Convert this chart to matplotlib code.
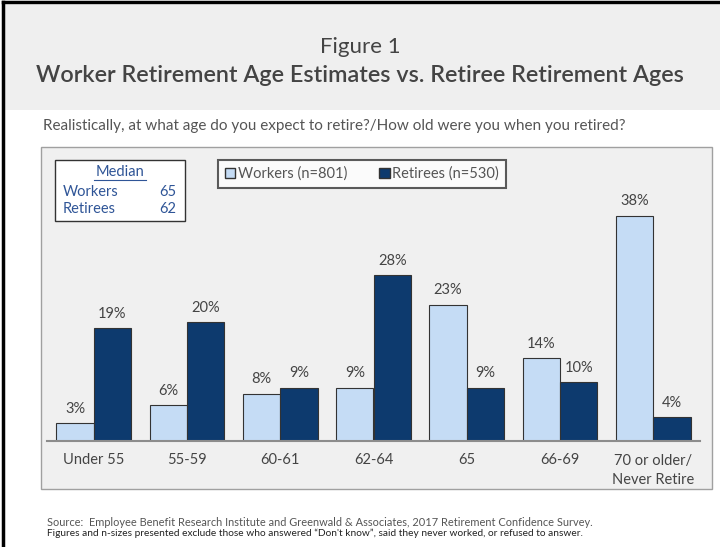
import numpy as np
import matplotlib.pyplot as plt
from matplotlib.patches import Rectangle, Patch
from matplotlib.lines import Line2D

# datos
categorias = ["Under 55", "55-59", "60-61", "62-64", "65", "66-69", "70 or older/\nNever Retire"]
workers = [3, 6, 8, 9, 23, 14, 38]
retirees = [19, 20, 9, 28, 9, 10, 4]
mediana_workers = 65
mediana_retirees = 62

plt.rcParams['font.family'] = ['Lato', 'DejaVu Sans']

W, H = 720, 547
def fx(px): return px / W
def fy(py): return 1 - py / H

fig = plt.figure(figsize=(7.2, 5.47), dpi=100)
fig.patch.set_facecolor("white")

# banda gris del encabezado
fig.add_artist(Rectangle((fx(5), fy(110)), fx(715), 105 / H, transform=fig.transFigure,
                         facecolor="#efefef", edgecolor="none", zorder=0))
# bordes negros
fig.add_artist(Line2D([fx(3), fx(3)], [0, fy(2)], transform=fig.transFigure, color="black", lw=2.5))
fig.add_artist(Line2D([fx(3), 1], [fy(2), fy(2)], transform=fig.transFigure, color="black", lw=2.5))

fig.text(0.5, fy(47), "Figure 1", ha="center", va="center", fontsize=16, color="#444444", fontweight="normal")
fig.text(0.5, fy(75), "Worker Retirement Age Estimates vs. Retiree Retirement Ages", ha="center", va="center",
         fontsize=16.8, color="#444444", fontweight="semibold")
fig.text(fx(43), fy(126), "Realistically, at what age do you expect to retire?/How old were you when you retired?",
         ha="left", va="center", fontsize=11, color="#555555")

# panel gris del grafico
fig.add_artist(Rectangle((fx(41), fy(489)), (712 - 41) / W, (489 - 147) / H, transform=fig.transFigure,
                         facecolor="#f0f0f0", edgecolor="#a0a0a0", lw=1, zorder=0))

ax = fig.add_axes([fx(47), fy(441), (700 - 47) / W, (441 - 174) / H])
ax.set_facecolor("none")
x = np.arange(len(categorias))
ax.bar(x - 0.2, workers, 0.4, color="#c5dcf5", edgecolor="#333333", lw=0.8)
ax.bar(x + 0.2, retirees, 0.4, color="#0d3a6e", edgecolor="#333333", lw=0.8)
for i in range(len(x)):
    ax.text(x[i] - 0.2, workers[i] + 1.2, f"{workers[i]}%", ha="center", va="bottom", fontsize=10.5, color="#444444")
    ax.text(x[i] + 0.2, retirees[i] + 1.2, f"{retirees[i]}%", ha="center", va="bottom", fontsize=10.5, color="#444444")
ax.set_xlim(-0.5, 6.5)
ax.set_ylim(0, 45)
ax.set_xticks(x, categorias, fontsize=10.5, color="#444444", linespacing=1.5)
ax.tick_params(axis="x", length=0, pad=9)
ax.set_yticks([])
for s in ["top", "right", "left"]:
    ax.spines[s].set_visible(False)
ax.spines["bottom"].set_color("#8c8c8c")
ax.spines["bottom"].set_linewidth(1.5)

# leyenda
handles = [Patch(facecolor="#c5dcf5", edgecolor="#333333", label="Workers (n=801)"),
           Patch(facecolor="#0d3a6e", edgecolor="#333333", label="Retirees (n=530)")]
leg = fig.legend(handles=handles, loc="center", bbox_to_anchor=(fx(362), fy(174)), ncol=2, fontsize=10.5,
                 frameon=True, fancybox=False, edgecolor="#333333", handlelength=0.7, handleheight=0.7,
                 handletextpad=0.2, columnspacing=2.2, borderpad=0.45, borderaxespad=0,
                 labelcolor="#555555")
leg.get_frame().set_linewidth(1.5)

# cuadro de la mediana
fig.add_artist(Rectangle((fx(55), fy(221)), 130 / W, 61 / H, transform=fig.transFigure,
                         facecolor="white", edgecolor="#333333", lw=1, zorder=2))
azul = "#2f5597"
fig.text(fx(120), fy(172), "Median", ha="center", va="center", fontsize=10.5, color=azul, zorder=3)
fig.add_artist(Line2D([fx(94), fx(146)], [fy(180), fy(180)], transform=fig.transFigure, color=azul, lw=0.8, zorder=3))
fig.text(fx(63), fy(192), "Workers", ha="left", va="center", fontsize=10.5, color=azul, zorder=3)
fig.text(fx(176), fy(192), str(mediana_workers), ha="right", va="center", fontsize=10.5, color=azul, zorder=3)
fig.text(fx(63), fy(209), "Retirees", ha="left", va="center", fontsize=10.5, color=azul, zorder=3)
fig.text(fx(176), fy(209), str(mediana_retirees), ha="right", va="center", fontsize=10.5, color=azul, zorder=3)

# fuente
fig.text(fx(47), fy(522), "Source:  Employee Benefit Research Institute and Greenwald & Associates, 2017 Retirement Confidence Survey.",
         ha="left", va="center", fontsize=7.9, color="#555555")
fig.text(fx(47), fy(533), "Figures and n-sizes presented exclude those who answered \u201cDon't know\u201d, said they never worked, or refused to answer.",
         ha="left", va="center", fontsize=7.3, color="#222222")

plt.savefig("out.png", dpi=100)
